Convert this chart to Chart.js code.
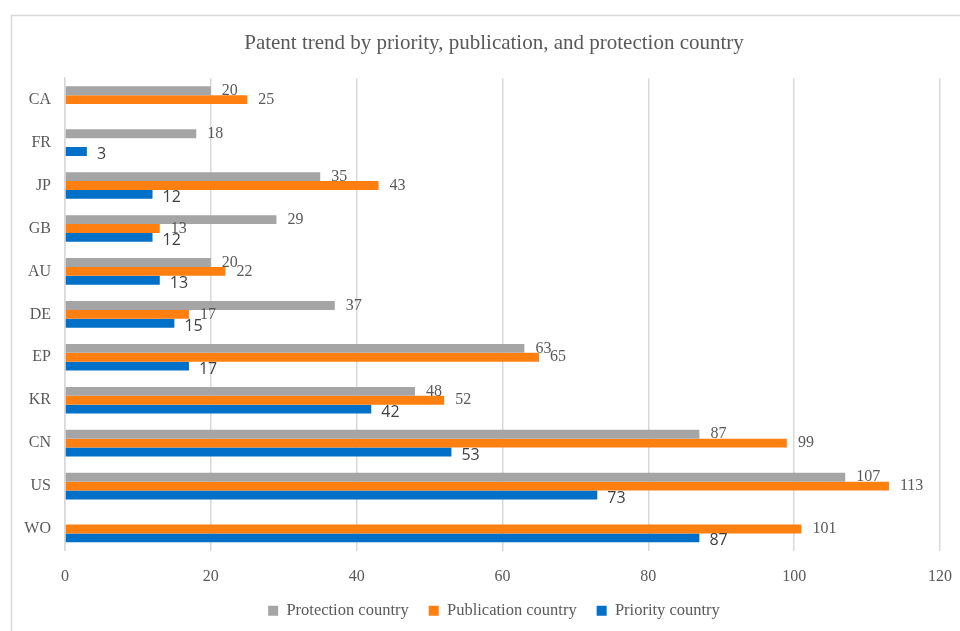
<!DOCTYPE html>
<html>
<head>
<meta charset="utf-8">
<script src="https://cdn.jsdelivr.net/npm/chart.js"></script>
<style>
html,body{margin:0;padding:0;background:#fff;}
#wrap{width:960px;height:631px;position:relative;}
</style>
</head>
<body>
<div id="wrap"><canvas id="chart"></canvas></div>
<script>

/* DATA */

let countries = ["CA","FR","JP","GB","AU","DE","EP","KR","CN","US","WO"];

let protection  = [20, 18, 35, 29, 20, 37, 63, 48, 87, 107, null];
let publication = [25, null, 43, 13, 22, 17, 65, 52, 99, 113, 101];
let priority    = [null, 3, 12, 12, 13, 15, 17, 42, 53, 73, 87];

let xTicks = [0, 20, 40, 60, 80, 100, 120];

let grey = "#595959";
let serif = "'Liberation Serif', serif";


/* PLUGINS */

// light frame round the chart, like the office export
const frame = {
id:"frame",
beforeDraw(c){
let ctx = c.ctx;
ctx.save();
ctx.strokeStyle = "#d9d9d9";
ctx.lineWidth = 1.5;
ctx.strokeRect(11.5, 15.5, 1000, 1000);
ctx.restore();
}
};

// country names, drawn left of the axis (the y scale box is kept narrow)
const catLabels = {
id:"catLabels",
afterDraw(c){
let ctx = c.ctx;
let y = c.scales.y;
ctx.save();
ctx.font = "16px " + serif;
ctx.fillStyle = grey;
ctx.textAlign = "right";
ctx.textBaseline = "middle";
countries.forEach((name, i)=>{
ctx.fillText(name, y.right - 14, y.getPixelForTick(i));
});
ctx.restore();
}
};

// value labels at the end of each bar
const barLabels = {
id:"barLabels",
afterDatasetsDraw(c){
let ctx = c.ctx;
ctx.save();
ctx.textBaseline = "middle";
ctx.textAlign = "left";
c.data.datasets.forEach((ds, i)=>{
let meta = c.getDatasetMeta(i);
meta.data.forEach((bar, j)=>{
let v = ds.data[j];
if(v === null) return;
if(i === 2){
ctx.font = "16px 'Open Sans', sans-serif";
ctx.fillStyle = "#404040";
ctx.fillText(v, bar.x + 10, bar.y + 3);
}else{
ctx.font = "16px " + serif;
ctx.fillStyle = grey;
ctx.fillText(v, bar.x + 11, bar.y);
}
});
});
ctx.restore();
}
};


/* CHART */

function initChart(){

const ctx = document.getElementById("chart");

new Chart(ctx,{
type:"bar",
data:{
labels:countries,
datasets:[
{label:"Protection country", data:protection, backgroundColor:"#A5A5A5"},
{label:"Publication country", data:publication, backgroundColor:"#FF7F11"},
{label:"Priority country", data:priority, backgroundColor:"#0070C8"}
]
},
options:{
indexAxis:"y",
responsive:true,
maintainAspectRatio:false,
animation:false,
datasets:{bar:{categoryPercentage:0.62, barPercentage:1}},
layout:{padding:{left:48, right:20, top:31, bottom:2}},
plugins:{
title:{
display:true,
text:"Patent trend by priority, publication, and protection country",
color:grey,
font:{family:serif, size:21, weight:"normal"},
padding:{top:0, bottom:22}
},
legend:{
position:"bottom",
labels:{
color:grey,
font:{family:serif, size:16.5},
boxWidth:10,
boxHeight:10,
padding:20
}
},
tooltip:{enabled:false}
},
scales:{
x:{
min:0,
max:120,
afterBuildTicks(s){ s.ticks = xTicks.map(v=>({value:v})); },
grid:{color:"#d9d9d9", lineWidth:1.5, drawTicks:false},
border:{display:false},
ticks:{color:grey, font:{family:serif, size:16}, padding:17},
afterFit(s){ s.height = 32; s.paddingLeft = 0; s.paddingRight = 0; }
},
y:{
grid:{display:false, drawTicks:false},
border:{color:"#d9d9d9", width:1.5},
ticks:{display:false},
afterFit(s){ s.width = 17; }
}
}
},
plugins:[frame, catLabels, barLabels]
});

}

window.onload = initChart;

</script>
</body>
</html>
